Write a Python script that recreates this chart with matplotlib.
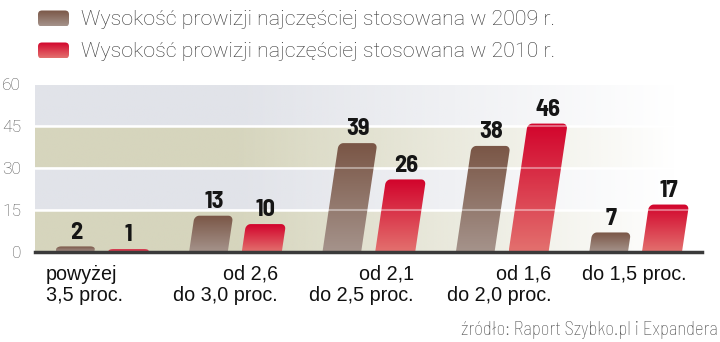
import numpy as np
import matplotlib.pyplot as plt
from matplotlib.path import Path
from matplotlib.patches import PathPatch, FancyBboxPatch
from matplotlib.colors import to_rgb
from matplotlib.transforms import blended_transform_factory

kategorie = ["powyżej\n3,5 proc.", "od 2,6\ndo 3,0 proc.", "od 2,1\ndo 2,5 proc.",
             "od 1,6\ndo 2,0 proc.", "do 1,5 proc."]
prowizja_2009 = [2, 13, 39, 38, 7]
prowizja_2010 = [1, 10, 26, 46, 17]
skala_y = [0, 15, 30, 45, 60]
legenda = ["Wysokość prowizji najczęściej stosowana w 2009 r.",
           "Wysokość prowizji najczęściej stosowana w 2010 r."]
zrodlo = "źródło: Raport Szybko.pl i Expandera"

WASKI = ["Barlow Semi Condensed", "DejaVu Sans"]
ZWYKLY = ["Liberation Sans", "DejaVu Sans"]
CIENKI = ["Roboto", "DejaVu Sans"]

BRAZ = ("#7a5646", "#a5938b")     # gora, dol
CZERWONY = ("#d2042c", "#e3706e")

SKOS = 0.0031   # przesuniecie gory slupka w prawo na jednostke wysokosci


def gradient(gora, dol, n=64):
    t = np.linspace(0, 1, n)[:, None]
    g, d = np.array(to_rgb(gora)), np.array(to_rgb(dol))
    return (g * t + d * (1 - t))[:, None, :]   # wiersz 0 = dol


def slupek(ax, rect, kolory):
    x0 = rect.get_x()
    x1 = x0 + rect.get_width()
    h = rect.get_height()
    rect.set_visible(False)
    rx = 0.035
    ry = min(1.8, h * 0.5)
    pts = [(x0, 0), (x1, 0), (x1, h - ry)]
    for a in np.linspace(0, np.pi / 2, 8):
        pts.append((x1 - rx + rx * np.cos(a), h - ry + ry * np.sin(a)))
    for a in np.linspace(np.pi / 2, np.pi, 8):
        pts.append((x0 + rx + rx * np.cos(a), h - ry + ry * np.sin(a)))
    pts.append((x0, 0))
    pts = [(u + SKOS * y, y) for u, y in pts]
    patch = PathPatch(Path(pts), facecolor="none", edgecolor="none", zorder=2)
    ax.add_patch(patch)
    im = ax.imshow(gradient(*kolory), extent=(x0, x1 + SKOS * h, 0, h),
                   origin="lower", aspect="auto", zorder=2, interpolation="bilinear")
    im.set_clip_path(patch)
    ax.text((x0 + x1) / 2 + SKOS * h, h + 1.0, str(int(h)), ha="center", va="bottom",
            fontsize=17.5, fontweight="bold", family=WASKI, color="#151515", zorder=4)


fig = plt.figure(figsize=(7.2, 3.42), dpi=100)
ax = fig.add_axes([35 / 720, 1 - 252 / 342, 667 / 720, 167.5 / 342])

x = np.arange(len(kategorie))
ax.set_xlim(-0.5, 4.5)
ax.set_ylim(0, 60)

# pasy tla zanikajace w prawo
xs = np.linspace(-0.5, 4.5, 300)
alfa = np.clip((4.3 - xs) / 3.3, 0, 1)
for i, kolor in enumerate(["#d6d5bd", "#e1e3e9", "#d6d5bd", "#e1e3e9"]):
    pas = np.zeros((1, len(xs), 4))
    pas[..., :3] = to_rgb(kolor)
    pas[..., 3] = alfa
    ax.imshow(pas, extent=(-0.5, 4.5, skala_y[i], skala_y[i + 1]),
              aspect="auto", zorder=0, interpolation="bilinear")
for y in skala_y[1:-1]:
    ax.axhline(y, color="white", lw=1.8, zorder=1)
    ax.axhline(y, color="white", lw=1.5, alpha=0.4, zorder=3)

s1 = ax.bar(x - 0.2, prowizja_2009, 0.29)
s2 = ax.bar(x + 0.2, prowizja_2010, 0.3)
for r in s1:
    slupek(ax, r, BRAZ)
for r in s2:
    slupek(ax, r, CZERWONY)

ax.set_xlim(-0.5, 4.5)
ax.set_ylim(0, 60)
for s in ["top", "left", "right"]:
    ax.spines[s].set_visible(False)
ax.spines["bottom"].set_color("#3a3a3a")
ax.spines["bottom"].set_linewidth(2.5)
ax.spines["bottom"].set_zorder(5)
ax.set_xticks([])
ax.set_yticks(skala_y)
ax.tick_params(axis="y", length=0, pad=10, labelcolor="#555555", labelsize=12.5)
for lab in ax.get_yticklabels():
    lab.set_family(CIENKI)
    lab.set_fontweight("light")

# podpisy kategorii
tr = blended_transform_factory(ax.transData, ax.transAxes)
polozenie = [(-0.42, "left"), (0.32, "right"), (0.34, "right"), (0.37, "right"), (-0.01, "center")]
for i, (k, (dx, ha)) in enumerate(zip(kategorie, polozenie)):
    ax.text(i + dx, -0.075, k, transform=tr, ha=ha, va="top", multialignment=ha,
            fontsize=14.2, family=ZWYKLY, color="#111111", linespacing=1.15)

# legenda i zrodlo
lax = fig.add_axes([0, 0, 1, 1])
lax.set_xlim(0, 720)
lax.set_ylim(342, 0)
lax.axis("off")
for j, (tekst, kolory) in enumerate(zip(legenda, [BRAZ, CZERWONY])):
    yc = 18.5 + 32 * j
    p = FancyBboxPatch((38, yc - 8), 31, 16, boxstyle="round,pad=0,rounding_size=4",
                       facecolor="none", edgecolor="none")
    lax.add_patch(p)
    im = lax.imshow(gradient(*kolory)[::-1], extent=(38, 69, yc + 8, yc - 8),
                    aspect="auto", interpolation="bilinear")
    im.set_clip_path(p)
    lax.text(81, yc + 1, tekst, ha="left", va="center", fontsize=15.4,
             family=CIENKI, fontweight="light", color="#333333")
lax.set_xlim(0, 720)
lax.set_ylim(342, 0)
lax.text(718, 330, zrodlo, ha="right", va="center", fontsize=13.5,
         family=WASKI, fontweight="light", color="#555555")

fig.savefig("out.png", dpi=100)
